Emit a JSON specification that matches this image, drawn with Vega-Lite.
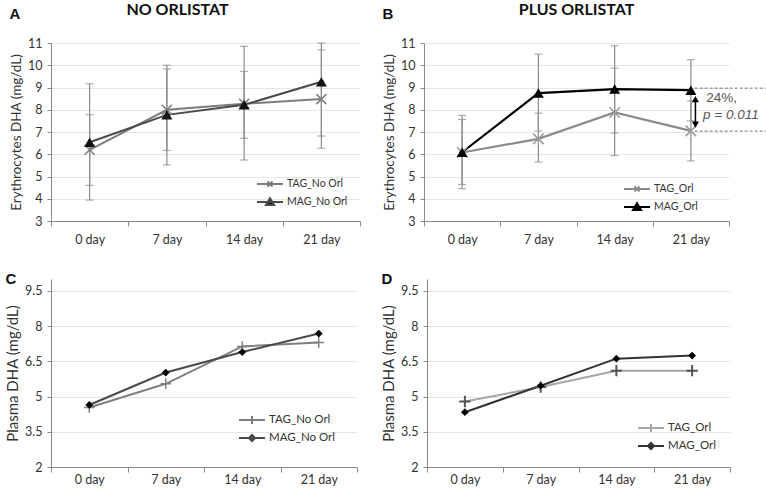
{
  "$schema": "https://vega.github.io/schema/vega-lite/v6.json",
  "background": "white",
  "padding": {"left": 5, "top": 2, "right": 0, "bottom": 0},
  "datasets": {
    "ery": [
      {"panel": "A", "day": "0 day", "series": "TAG_No Orl", "v": 6.2, "lo": 4.6, "hi": 7.78},
      {"panel": "A", "day": "7 day", "series": "TAG_No Orl", "v": 8.0, "lo": 6.17, "hi": 9.83},
      {"panel": "A", "day": "14 day", "series": "TAG_No Orl", "v": 8.27, "lo": 5.74, "hi": 10.85},
      {"panel": "A", "day": "21 day", "series": "TAG_No Orl", "v": 8.48, "lo": 6.27, "hi": 10.69},
      {"panel": "A", "day": "0 day", "series": "MAG_No Orl", "v": 6.54, "lo": 3.94, "hi": 9.17},
      {"panel": "A", "day": "7 day", "series": "MAG_No Orl", "v": 7.77, "lo": 5.52, "hi": 10.0},
      {"panel": "A", "day": "14 day", "series": "MAG_No Orl", "v": 8.22, "lo": 6.72, "hi": 9.72},
      {"panel": "A", "day": "21 day", "series": "MAG_No Orl", "v": 9.26, "lo": 6.82, "hi": 11.7},
      {"panel": "B", "day": "0 day", "series": "TAG_Orl", "v": 6.08, "lo": 4.64, "hi": 7.56},
      {"panel": "B", "day": "7 day", "series": "TAG_Orl", "v": 6.69, "lo": 5.65, "hi": 7.85},
      {"panel": "B", "day": "14 day", "series": "TAG_Orl", "v": 7.88, "lo": 5.94, "hi": 9.87},
      {"panel": "B", "day": "21 day", "series": "TAG_Orl", "v": 7.05, "lo": 5.7, "hi": 8.4},
      {"panel": "B", "day": "0 day", "series": "MAG_Orl", "v": 6.09, "lo": 4.45, "hi": 7.75},
      {"panel": "B", "day": "7 day", "series": "MAG_Orl", "v": 8.75, "lo": 7.05, "hi": 10.5},
      {"panel": "B", "day": "14 day", "series": "MAG_Orl", "v": 8.93, "lo": 6.95, "hi": 10.88},
      {"panel": "B", "day": "21 day", "series": "MAG_Orl", "v": 8.88, "lo": 7.5, "hi": 10.25}
    ],
    "pla": [
      {"panel": "C", "day": "0 day", "series": "TAG_No Orl", "v": 4.53},
      {"panel": "C", "day": "7 day", "series": "TAG_No Orl", "v": 5.54},
      {"panel": "C", "day": "14 day", "series": "TAG_No Orl", "v": 7.13},
      {"panel": "C", "day": "21 day", "series": "TAG_No Orl", "v": 7.3},
      {"panel": "C", "day": "0 day", "series": "MAG_No Orl", "v": 4.64},
      {"panel": "C", "day": "7 day", "series": "MAG_No Orl", "v": 6.02},
      {"panel": "C", "day": "14 day", "series": "MAG_No Orl", "v": 6.89},
      {"panel": "C", "day": "21 day", "series": "MAG_No Orl", "v": 7.68},
      {"panel": "D", "day": "0 day", "series": "TAG_Orl", "v": 4.79},
      {"panel": "D", "day": "7 day", "series": "TAG_Orl", "v": 5.4},
      {"panel": "D", "day": "14 day", "series": "TAG_Orl", "v": 6.1},
      {"panel": "D", "day": "21 day", "series": "TAG_Orl", "v": 6.1},
      {"panel": "D", "day": "0 day", "series": "MAG_Orl", "v": 4.33},
      {"panel": "D", "day": "7 day", "series": "MAG_Orl", "v": 5.46},
      {"panel": "D", "day": "14 day", "series": "MAG_Orl", "v": 6.61},
      {"panel": "D", "day": "21 day", "series": "MAG_Orl", "v": 6.74}
    ],
    "ann": [
      {"kind": "dash", "x": 3.05, "x2": 4.0, "y": 8.97},
      {"kind": "dash", "x": 3.05, "x2": 4.0, "y": 7.04},
      {"kind": "arrow", "x": 3.06, "y": 8.5, "y2": 7.3},
      {"kind": "up", "x": 3.06, "y": 8.48},
      {"kind": "down", "x": 3.06, "y": 7.33},
      {"kind": "t1", "x": 3.2, "y": 8.55, "label": "24%,"},
      {"kind": "t2", "x": 3.16, "y": 7.77, "label": "p = 0.011"}
    ]
  },
  "config": {
    "font": "Lato",
    "view": {"stroke": null},
    "axis": {
      "domainColor": "#8a8a8a", "tickColor": "#8a8a8a", "labelColor": "#333333",
      "labelFont": "Lato", "labelFontSize": 12.5, "titleFont": "Lato", "titleFontWeight": "normal",
      "titleColor": "#333333", "gridColor": "#e6e6e6"
    },
    "axisX": {"grid": false, "tickSize": 5, "labelPadding": 7, "labelAngle": 0, "title": null, "tickBand": "extent"},
    "axisY": {"tickSize": 4, "labelPadding": 5, "titleFontSize": 13.5, "titlePadding": 4, "labelOverlap": false},
    "legend": {"title": null, "labelFont": "Lato", "labelFontSize": 10.5, "labelColor": "#333333", "padding": 0, "rowPadding": 3, "symbolSize": 100, "labelOffset": 11, "symbolStrokeWidth": 2, "orient": "bottom-right", "offset": 14},
    "title": {"font": "Lato", "fontSize": 16, "fontWeight": "bold", "color": "#111111"}
  },
  "resolve": {"scale": {"color": "independent"}},
  "spacing": 26,
  "vconcat": [
    {
      "spacing": 21,
      "resolve": {"scale": {"color": "independent"}},
      "hconcat": [
        {
          "title": {"text": "A", "anchor": "start", "frame": "bounds", "font": "Liberation Sans", "fontSize": 15, "fontWeight": "bold", "offset": -20},
          "resolve": {"scale": {"color": "independent"}},
          "vconcat": [
            {
              "width": 309, "height": 178,
              "title": {"text": "NO ORLISTAT", "anchor": "middle", "dx": -28, "offset": 19},
              "data": {"name": "ery"},
              "transform": [{"filter": "datum.panel == 'A'"}],
              "encoding": {
                "x": {"field": "day", "type": "ordinal", "sort": ["0 day", "7 day", "14 day", "21 day"], "scale": {"type": "band", "domain": ["0 day", "7 day", "14 day", "21 day"], "paddingInner": 0, "paddingOuter": 0}}
              },
              "layer": [
                {
                  "mark": {"type": "errorbar", "ticks": {"size": 8, "color": "#8c8c8c", "thickness": 1.2}, "rule": {"color": "#8c8c8c", "strokeWidth": 1.2}},
                  "encoding": {
                    "y": {"field": "lo", "type": "quantitative", "title": "Erythrocytes  DHA (mg/dL)", "scale": {"domain": [3, 11], "clamp": true, "nice": false}, "axis": {"values": [3,4,5,6,7,8,9,10,11], "format": "d", "labelOverlap": false}},
                    "y2": {"field": "hi"}
                  }
                },
                {
                  "mark": {"type": "line", "strokeWidth": 2},
                  "encoding": {
                    "y": {"field": "v", "type": "quantitative", "title": "Erythrocytes  DHA (mg/dL)", "axis": {"values": [3,4,5,6,7,8,9,10,11], "format": "d", "labelOverlap": false}},
                    "color": {"field": "series", "type": "nominal", "scale": {"domain": ["TAG_No Orl", "MAG_No Orl"], "range": ["#7c7c7c", "#4a4a4a"]},
                      "legend": {"offset": 12, "encode": {"symbols": {"update": {
                        "shape": {"signal": "datum.value == 'MAG_No Orl' ? 'M-2.6,0H2.6M-0.8,0.6L0,-0.75L0.8,0.6Z' : 'M-2.6,0H2.6M-0.5,-0.5L0.5,0.5M-0.5,0.5L0.5,-0.5'"},
                        "fill": {"signal": "datum.value == 'MAG_No Orl' ? '#111111' : 'transparent'"}}}}}}
                  }
                },
                {
                  "transform": [{"filter": "datum.series == 'TAG_No Orl'"}],
                  "mark": {"type": "point", "shape": "M-1,-1L1,1M-1,1L1,-1", "size": 100, "filled": false, "stroke": "#808080", "strokeWidth": 1.6, "opacity": 1},
                  "encoding": {"y": {"field": "v", "type": "quantitative", "title": "Erythrocytes  DHA (mg/dL)", "axis": {"values": [3,4,5,6,7,8,9,10,11], "format": "d", "labelOverlap": false}}}
                },
                {
                  "transform": [{"filter": "datum.series == 'MAG_No Orl'"}],
                  "mark": {"type": "point", "shape": "triangle-up", "size": 120, "filled": true, "fill": "#111111", "opacity": 1},
                  "encoding": {"y": {"field": "v", "type": "quantitative", "title": "Erythrocytes  DHA (mg/dL)", "axis": {"values": [3,4,5,6,7,8,9,10,11], "format": "d", "labelOverlap": false}}}
                }
              ]
            }
          ]
        },
        {
          "title": {"text": "B", "anchor": "start", "frame": "bounds", "font": "Liberation Sans", "fontSize": 15, "fontWeight": "bold", "offset": -20},
          "resolve": {"scale": {"color": "independent"}},
          "vconcat": [
            {
              "width": 305, "height": 178,
              "title": {"text": "PLUS ORLISTAT", "anchor": "middle", "offset": 19},
              "resolve": {"scale": {"x": "independent"}},
              "layer": [
                {
                  "data": {"name": "ery"},
                  "transform": [{"filter": "datum.panel == 'B'"}],
                  "encoding": {
                    "x": {"field": "day", "type": "ordinal", "sort": ["0 day", "7 day", "14 day", "21 day"], "scale": {"type": "band", "domain": ["0 day", "7 day", "14 day", "21 day"], "paddingInner": 0, "paddingOuter": 0}}
                  },
                  "layer": [
                    {
                      "mark": {"type": "errorbar", "ticks": {"size": 8, "color": "#8c8c8c", "thickness": 1.2}, "rule": {"color": "#8c8c8c", "strokeWidth": 1.2}},
                      "encoding": {
                        "y": {"field": "lo", "type": "quantitative", "title": "Erythrocytes  DHA (mg/dL)", "scale": {"domain": [3, 11], "clamp": true, "nice": false}, "axis": {"values": [3,4,5,6,7,8,9,10,11], "format": "d", "labelOverlap": false}},
                        "y2": {"field": "hi"}
                      }
                    },
                    {
                      "mark": {"type": "line", "strokeWidth": 2.2},
                      "encoding": {
                        "y": {"field": "v", "type": "quantitative", "title": "Erythrocytes  DHA (mg/dL)", "axis": {"values": [3,4,5,6,7,8,9,10,11], "format": "d", "labelOverlap": false}},
                        "color": {"field": "series", "type": "nominal", "scale": {"domain": ["TAG_Orl", "MAG_Orl"], "range": ["#8c8c8c", "#000000"]},
                          "legend": {"orient": "none", "legendX": 207, "legendY": 140, "encode": {"symbols": {"update": {
                            "shape": {"signal": "datum.value == 'MAG_Orl' ? 'M-2.6,0H2.6M-0.8,0.6L0,-0.75L0.8,0.6Z' : 'M-2.6,0H2.6M-0.5,-0.5L0.5,0.5M-0.5,0.5L0.5,-0.5'"},
                            "fill": {"signal": "datum.value == 'MAG_Orl' ? '#000000' : 'transparent'"}}}}}}
                      }
                    },
                    {
                      "transform": [{"filter": "datum.series == 'TAG_Orl'"}],
                      "mark": {"type": "point", "shape": "M-1,-1L1,1M-1,1L1,-1", "size": 110, "filled": false, "stroke": "#9a9a9a", "strokeWidth": 1.5, "opacity": 1},
                      "encoding": {"y": {"field": "v", "type": "quantitative", "title": "Erythrocytes  DHA (mg/dL)", "axis": {"values": [3,4,5,6,7,8,9,10,11], "format": "d", "labelOverlap": false}}}
                    },
                    {
                      "transform": [{"filter": "datum.series == 'MAG_Orl'"}],
                      "mark": {"type": "point", "shape": "triangle-up", "size": 120, "filled": true, "fill": "#000000", "opacity": 1},
                      "encoding": {"y": {"field": "v", "type": "quantitative", "title": "Erythrocytes  DHA (mg/dL)", "axis": {"values": [3,4,5,6,7,8,9,10,11], "format": "d", "labelOverlap": false}}}
                    }
                  ]
                },
                {
                  "data": {"name": "ann"},
                  "encoding": {
                    "x": {"field": "x", "type": "quantitative", "scale": {"domain": [-0.5, 3.5], "nice": false, "zero": false}, "axis": null}
                  },
                  "layer": [
                    {
                      "transform": [{"filter": "datum.kind == 'dash'"}],
                      "mark": {"type": "rule", "color": "#777777", "strokeWidth": 1, "strokeDash": [3, 2]},
                      "encoding": {"x2": {"field": "x2"}, "y": {"field": "y", "type": "quantitative", "title": "Erythrocytes  DHA (mg/dL)", "axis": {"values": [3,4,5,6,7,8,9,10,11], "format": "d", "labelOverlap": false}}}
                    },
                    {
                      "transform": [{"filter": "datum.kind == 'arrow'"}],
                      "mark": {"type": "rule", "color": "#000000", "strokeWidth": 1.5},
                      "encoding": {"y": {"field": "y", "type": "quantitative", "title": "Erythrocytes  DHA (mg/dL)", "axis": {"values": [3,4,5,6,7,8,9,10,11], "format": "d", "labelOverlap": false}}, "y2": {"field": "y2"}}
                    },
                    {
                      "transform": [{"filter": "datum.kind == 'up'"}],
                      "mark": {"type": "point", "shape": "triangle-up", "size": 50, "filled": true, "fill": "#000000", "opacity": 1},
                      "encoding": {"y": {"field": "y", "type": "quantitative", "title": "Erythrocytes  DHA (mg/dL)", "axis": {"values": [3,4,5,6,7,8,9,10,11], "format": "d", "labelOverlap": false}}}
                    },
                    {
                      "transform": [{"filter": "datum.kind == 'down'"}],
                      "mark": {"type": "point", "shape": "triangle-down", "size": 50, "filled": true, "fill": "#000000", "opacity": 1},
                      "encoding": {"y": {"field": "y", "type": "quantitative", "title": "Erythrocytes  DHA (mg/dL)", "axis": {"values": [3,4,5,6,7,8,9,10,11], "format": "d", "labelOverlap": false}}}
                    },
                    {
                      "transform": [{"filter": "datum.kind == 't1'"}],
                      "mark": {"type": "text", "align": "left", "baseline": "middle", "font": "Liberation Sans", "fontSize": 13.5, "color": "#555555"},
                      "encoding": {"y": {"field": "y", "type": "quantitative", "title": "Erythrocytes  DHA (mg/dL)", "axis": {"values": [3,4,5,6,7,8,9,10,11], "format": "d", "labelOverlap": false}}, "text": {"field": "label"}}
                    },
                    {
                      "transform": [{"filter": "datum.kind == 't2'"}],
                      "mark": {"type": "text", "align": "left", "baseline": "middle", "font": "Liberation Sans", "fontSize": 13.5, "fontStyle": "italic", "color": "#555555"},
                      "encoding": {"y": {"field": "y", "type": "quantitative", "title": "Erythrocytes  DHA (mg/dL)", "axis": {"values": [3,4,5,6,7,8,9,10,11], "format": "d", "labelOverlap": false}}, "text": {"field": "label"}}
                    }
                  ]
                }
              ]
            }
          ]
        }
      ]
    },
    {
      "spacing": 23,
      "resolve": {"scale": {"color": "independent"}},
      "hconcat": [
        {
          "width": 306, "height": 188,
          "title": {"text": "C", "anchor": "start", "frame": "bounds", "font": "Liberation Sans", "fontSize": 15, "fontWeight": "bold", "offset": -8},
          "data": {"name": "pla"},
          "transform": [{"filter": "datum.panel == 'C'"}],
          "encoding": {
            "x": {"field": "day", "type": "ordinal", "sort": ["0 day", "7 day", "14 day", "21 day"], "scale": {"type": "band", "domain": ["0 day", "7 day", "14 day", "21 day"], "paddingInner": 0, "paddingOuter": 0}, "axis": {"labelPadding": 1}},
            "y": {"field": "v", "type": "quantitative", "title": "Plasma  DHA  (mg/dL)", "scale": {"domain": [2, 10], "nice": false}, "axis": {"values": [2, 3.5, 5, 6.5, 8, 9.5], "format": ".1~f", "labelOverlap": false, "titleFontSize": 15}}
          },
          "layer": [
            {
              "mark": {"type": "line", "strokeWidth": 2},
              "encoding": {
                "color": {"field": "series", "type": "nominal", "scale": {"domain": ["TAG_No Orl", "MAG_No Orl"], "range": ["#808080", "#4a4a4a"]},
                  "legend": {"labelFontSize": 11.5, "offset": 22, "encode": {"symbols": {"update": {
                    "shape": {"signal": "datum.value == 'MAG_No Orl' ? 'M-2.6,0H2.6M-0.6,0L0,-0.6L0.6,0L0,0.6Z' : 'M-2.6,0H2.6M0,-0.8V0.8'"},
                    "fill": {"signal": "datum.value == 'MAG_No Orl' ? '#000000' : 'transparent'"}}}}}}
              }
            },
            {
              "transform": [{"filter": "datum.series == 'TAG_No Orl'"}],
              "mark": {"type": "point", "shape": "M-1,0L1,0M0,-1L0,1", "size": 110, "filled": false, "stroke": "#808080", "strokeWidth": 1.5, "opacity": 1}
            },
            {
              "transform": [{"filter": "datum.series == 'MAG_No Orl'"}],
              "mark": {"type": "point", "shape": "diamond", "size": 60, "filled": true, "fill": "#000000", "opacity": 1}
            }
          ]
        },
        {
          "width": 303, "height": 188,
          "title": {"text": "D", "anchor": "start", "frame": "bounds", "font": "Liberation Sans", "fontSize": 15, "fontWeight": "bold", "offset": -8},
          "data": {"name": "pla"},
          "transform": [{"filter": "datum.panel == 'D'"}],
          "encoding": {
            "x": {"field": "day", "type": "ordinal", "sort": ["0 day", "7 day", "14 day", "21 day"], "scale": {"type": "band", "domain": ["0 day", "7 day", "14 day", "21 day"], "paddingInner": 0, "paddingOuter": 0}, "axis": {"labelPadding": 1}},
            "y": {"field": "v", "type": "quantitative", "title": "Plasma  DHA  (mg/dL)", "scale": {"domain": [2, 10], "nice": false}, "axis": {"values": [2, 3.5, 5, 6.5, 8, 9.5], "format": ".1~f", "labelOverlap": false, "titleFontSize": 15}}
          },
          "layer": [
            {
              "mark": {"type": "line", "strokeWidth": 2},
              "encoding": {
                "color": {"field": "series", "type": "nominal", "scale": {"domain": ["TAG_Orl", "MAG_Orl"], "range": ["#a6a6a6", "#333333"]},
                  "legend": {"labelFontSize": 11.5, "offset": 14, "encode": {"symbols": {"update": {
                    "shape": {"signal": "datum.value == 'MAG_Orl' ? 'M-2.6,0H2.6M-0.6,0L0,-0.6L0.6,0L0,0.6Z' : 'M-2.6,0H2.6M0,-0.8V0.8'"},
                    "fill": {"signal": "datum.value == 'MAG_Orl' ? '#000000' : 'transparent'"}}}}}}
              }
            },
            {
              "transform": [{"filter": "datum.series == 'TAG_Orl'"}],
              "mark": {"type": "point", "shape": "M-1,0L1,0M0,-1L0,1", "size": 130, "filled": false, "stroke": "#555555", "strokeWidth": 2, "opacity": 1}
            },
            {
              "transform": [{"filter": "datum.series == 'MAG_Orl'"}],
              "mark": {"type": "point", "shape": "diamond", "size": 60, "filled": true, "fill": "#000000", "opacity": 1}
            }
          ]
        }
      ]
    }
  ]
}
